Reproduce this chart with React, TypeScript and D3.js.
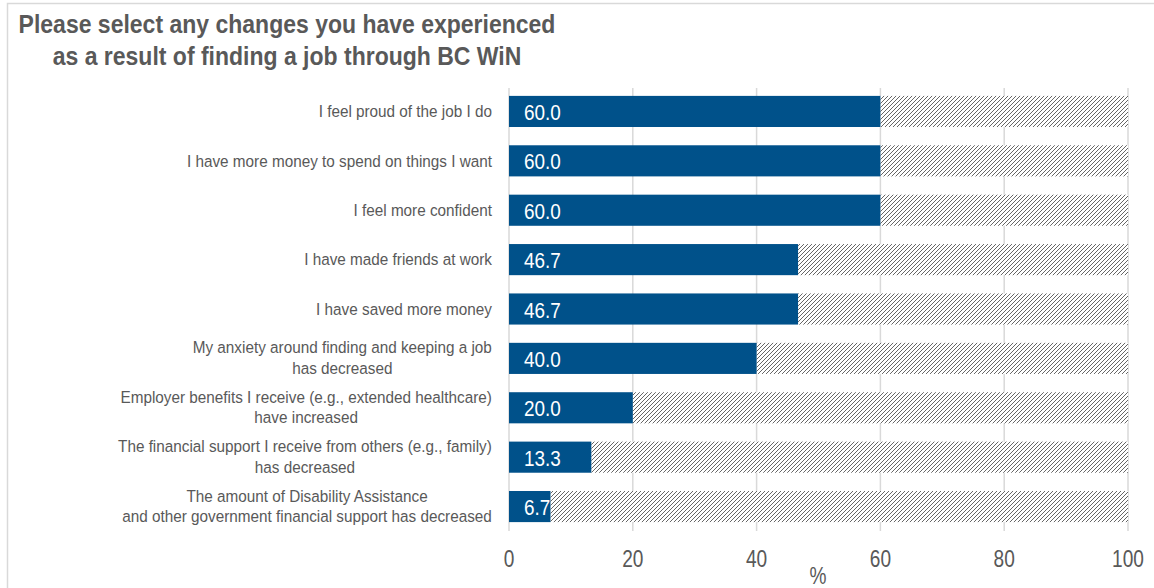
import React from "react";
import * as d3 from "d3";

const categories: string[][] = [
  ["I feel proud of the job I do"],
  ["I have more money to spend on things I want"],
  ["I feel more confident"],
  ["I have made friends at work"],
  ["I have saved more money"],
  ["My anxiety around finding and keeping a job", "has decreased"],
  ["Employer benefits I receive (e.g., extended healthcare)", "have increased"],
  ["The financial support I receive from others (e.g., family)", "has decreased"],
  ["The amount of Disability Assistance", "and other government financial support has decreased"],
];
const values: number[] = [60.0, 60.0, 60.0, 46.7, 46.7, 40.0, 20.0, 13.3, 6.7];
const xTicks: number[] = [0, 20, 40, 60, 80, 100];
const titleLines: string[] = [
  "Please select any changes you have experienced",
  "as a result of finding a job through BC WiN",
];

const W = 1154;
const H = 588;
const FONT = "'Liberation Sans', Arial, sans-serif";
const LABEL_SIZE = 17;
const LABEL_SX = 0.9;

let ctx: CanvasRenderingContext2D | null = null;
function textWidth(s: string, font: string): number {
  if (!ctx && typeof document !== "undefined") {
    ctx = document.createElement("canvas").getContext("2d");
  }
  if (!ctx) return s.length * 8;
  ctx.font = font;
  return ctx.measureText(s).width;
}

export default function App() {
  const x = d3.scaleLinear().domain([0, 100]).range([509, 1128]);
  const y = d3
    .scaleBand<number>()
    .domain(d3.range(categories.length))
    .range([87, 531])
    .paddingInner(0.37)
    .paddingOuter(0.18);
  const labelRight = 492;
  const labelFont = `${LABEL_SIZE}px 'Liberation Sans'`;
  return (
    <div style={{ position: "absolute", left: 0, top: 0 }}>
      <svg width={W} height={H} style={{ display: "block", fontFamily: FONT }}>
        <defs>
          <pattern id="hatch" patternUnits="userSpaceOnUse" width={4} height={4}>
            <rect width={4} height={4} fill="#ffffff" />
            <path d="M-1,1 L1,-1 M0,4 L4,0 M3,5 L5,3" stroke="#4a4a4a" strokeWidth={0.85} />
          </pattern>
        </defs>
        <rect x={0} y={0} width={W} height={H} fill="#ffffff" />
        <path d={`M7.5,${H} L7.5,3.5 L${W},3.5`} fill="none" stroke="#d9d9d9" strokeWidth={1.5} />
        <g fill="#595959" fontWeight="bold" fontSize={25} textAnchor="middle">
          {titleLines.map((t, i) => (
            <g key={i} transform={`translate(287,${33 + i * 32}) scale(0.92,1)`}>
              <text x={0} y={0}>{t}</text>
            </g>
          ))}
        </g>
        {xTicks.map((t) => (
          <line key={t} x1={x(t)} x2={x(t)} y1={88} y2={531} stroke="#d9d9d9" strokeWidth={1.5} />
        ))}
        {values.map((v, i) => {
          const y0 = y(i)!;
          const bh = y.bandwidth();
          return (
            <g key={i}>
              <rect x={x(v)} y={y0} width={x(100) - x(v)} height={bh} fill="url(#hatch)" />
              <rect x={x(0)} y={y0} width={x(v) - x(0)} height={bh} fill="#00518a" />
              <g transform={`translate(${x(0) + 15},${y0 + bh / 2 + 8.5}) scale(0.86,1)`}>
                <text x={0} y={0} fill="#ffffff" fontSize={22}>
                  {v.toFixed(1)}
                </text>
              </g>
            </g>
          );
        })}
        {categories.map((lines, i) => {
          const cy = y(i)! + y.bandwidth() / 2;
          if (lines.length === 1) {
            return (
              <g key={i} transform={`translate(${labelRight},${cy + 5.7}) scale(${LABEL_SX},1)`}>
                <text x={0} y={0} textAnchor="end" fill="#595959" fontSize={LABEL_SIZE}>
                  {lines[0]}
                </text>
              </g>
            );
          }
          const wMax = d3.max(lines, (l) => textWidth(l, labelFont)) ?? 0;
          return (
            <g key={i} transform={`translate(${labelRight},${cy}) scale(${LABEL_SX},1)`}>
              <text textAnchor="middle" fill="#595959" fontSize={LABEL_SIZE}>
                {lines.map((l, j) => (
                  <tspan key={j} x={-wMax / 2} y={-5 + j * 20.5}>{l}</tspan>
                ))}
              </text>
            </g>
          );
        })}
        <g fill="#595959" fontSize={23} textAnchor="middle">
          {xTicks.map((t) => (
            <g key={t} transform={`translate(${x(t)},567) scale(0.83,1)`}>
              <text x={0} y={0}>{t}</text>
            </g>
          ))}
          <g transform="translate(818,584) scale(0.83,1)">
            <text x={0} y={0}>%</text>
          </g>
        </g>
      </svg>
    </div>
  );
}
